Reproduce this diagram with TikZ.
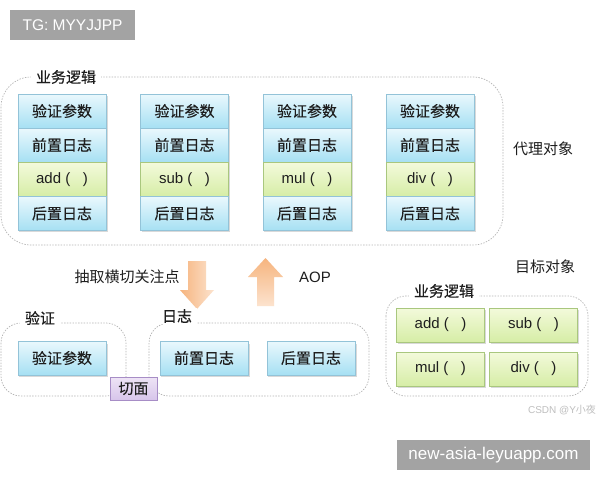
\documentclass[tikz,border=0pt]{standalone}
\usepackage{fontspec}
\setmainfont{Liberation Sans}
\newfontfamily\cjk[FakeBold=0.35]{Noto Sans CJK SC}
\newfontfamily\cjkplain{Noto Sans CJK SC}
\definecolor{bluetop}{HTML}{EAF8FD}
\definecolor{bluebot}{HTML}{A6E0F3}
\definecolor{blueline}{HTML}{93C3D8}
\definecolor{greentop}{HTML}{F3FADB}
\definecolor{greenbot}{HTML}{D6EDA6}
\definecolor{greenline}{HTML}{A9C77E}
\definecolor{purptop}{HTML}{EEE4F6}
\definecolor{purpbot}{HTML}{D7C5EA}
\definecolor{purpline}{HTML}{A78DC6}
\definecolor{orangeA}{HTML}{F6B47E}
\definecolor{orangeB}{HTML}{FCE3CE}
\definecolor{dashc}{HTML}{B4B4B4}
\definecolor{tggray}{HTML}{A3A3A3}
\definecolor{txt}{HTML}{1E1E1E}
\tikzset{
  cellbase/.style={minimum width=88pt, minimum height=34pt, inner sep=0pt, text=txt},
  cjkfont/.style={font=\cjk\fontsize{15}{15}\selectfont},
  cjkplainfont/.style={font=\cjkplain\fontsize{15}{15}\selectfont},
  latfont/.style={font=\fontsize{15}{15}\selectfont},
  bluecell/.style={cellbase, cjkfont, draw=blueline, top color=bluetop, bottom color=bluebot},
  greencell/.style={cellbase, latfont, draw=greenline, top color=greentop, bottom color=greenbot},
  shadowfill/.style={fill=black, opacity=0.15},
  groupbox/.style={draw=dashc, dash pattern=on 1.4pt off 1.4pt, line width=0.7pt},
  grouplabel/.style={fill=white, inner xsep=5pt, inner ysep=1pt, cjkfont, text=txt},
  plainlabel/.style={inner sep=0pt, cjkplainfont, text=txt},
}
\newcommand{\fnc}[1]{#1\ (\ \ \ )}
\begin{document}
\begin{tikzpicture}[x=1pt,y=-1pt]
\useasboundingbox (0,0) rectangle (600,480);
\fill[white] (0,0) rectangle (600,480);

% watermark box top-left
\node[fill=tggray, minimum width=125pt, minimum height=30pt, inner sep=0pt, text=white, font=\fontsize{15.5}{15.5}\selectfont] (tg) at (72.5,25) {TG: MYYJJPP};

% top group (proxy objects)
\draw[groupbox, rounded corners=30pt] (1,77) rectangle (503,245);
\node[grouplabel] (toplabel) at (66,77) {业务逻辑};

% columns
\foreach \cx/\fn/\nm in {62/add/a, 184.5/sub/b, 307/mul/c, 430/div/d}{
  \fill[shadowfill] (\cx-43,95.5) rectangle (\cx+45.5,231.5);
  \node[bluecell] (v\nm) at (\cx,111) {验证参数};
  \node[bluecell] (p\nm) at (\cx,145) {前置日志};
  \node[greencell] (f\nm) at (\cx,179.5) {\fnc{\fn}};
  \node[bluecell] (h\nm) at (\cx,213.5) {后置日志};
}
\node[plainlabel] (proxy) at (543,149) {代理对象};

% arrows
\shade[left color=orangeA, right color=orangeB]
  (188,261) -- (206,261) -- (206,290) -- (214,290) -- (197,309) -- (180,290) -- (188,290) -- cycle;
\shade[top color=orangeA, bottom color=orangeB]
  (257,306) -- (274,306) -- (274,277) -- (283,277) -- (265.5,258) -- (248,277) -- (257,277) -- cycle;
\node[plainlabel] (extract) at (127,277) {抽取横切关注点};
\node[inner sep=0pt, latfont, text=txt] (aop) at (315,277) {AOP};
\node[plainlabel] (target) at (545,267) {目标对象};

% bottom left group
\draw[groupbox, rounded corners=20pt] (1,323) rectangle (126,396);
\node[grouplabel] (vlabel) at (40,318) {验证};
\fill[shadowfill] (19,343.5) rectangle (107.5,376.5);
\node[bluecell] (vv) at (62,358) {验证参数};

% bottom middle group
\draw[groupbox, rounded corners=20pt] (149,323) rectangle (369,396);
\node[grouplabel] (llabel) at (177,316) {日志};
\fill[shadowfill] (161,343.5) rectangle (249.5,376.5);
\node[bluecell] (lp) at (204,358) {前置日志};
\fill[shadowfill] (268,343.5) rectangle (356.5,376.5);
\node[bluecell] (lh) at (311,358) {后置日志};

% aspect tag
\node[draw=purpline, top color=purptop, bottom color=purpbot, minimum width=47pt, minimum height=23pt, inner sep=0pt, cjkfont, text=txt] (aspect) at (133.5,388.5) {切面};

% right group
\draw[groupbox, rounded corners=20pt] (386,296) rectangle (588,396);
\node[grouplabel] (rlabel) at (444,291) {业务逻辑};
\foreach \cx/\cy/\fn/\nm in {440.5/325/add/ta, 533.5/325/sub/tb, 440.5/369/mul/tc, 533.5/369/div/td}{
  \fill[shadowfill] (\cx-43,\cy-15.5) rectangle (\cx+45.5,\cy+18.5);
  \node[greencell] (\nm) at (\cx,\cy) {\fnc{\fn}};
}

% credit
\node[inner sep=0pt, text=black!25, font=\fontsize{10}{10}\selectfont] (csdn) at (562,410) {CSDN @Y{\cjkplain 小夜}};

% watermark box bottom-right
\node[fill=tggray, minimum width=193pt, minimum height=30pt, inner sep=0pt, text=white, font=\fontsize{17}{17}\selectfont] (site) at (493.5,455) {new-asia-leyuapp.com};
\end{tikzpicture}
\end{document}
